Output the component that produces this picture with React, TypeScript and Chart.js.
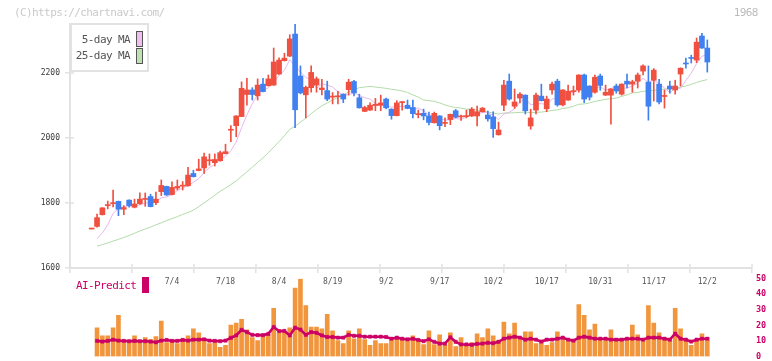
import React, { useEffect, useRef } from 'react';
import { Chart, registerables } from 'chart.js';

Chart.register(...registerables);

// ---------- data ----------
const opens = [
  1720, 1728, 1764, 1792, 1798, 1805, 1781, 1809, 1787, 1798,
  1811, 1820, 1801, 1835, 1851, 1826, 1846, 1852, 1853, 1891,
  1900, 1908, 1930, 1924, 1930, 1952, 2024, 2038, 2066, 2134,
  2148, 2130, 2166, 2161, 2163, 2197, 2238, 2252, 2320, 2191,
  2133, 2155, 2163, 2149, 2146, 2126, 2127, 2135, 2149, 2174,
  2124, 2082, 2086, 2100, 2101, 2120, 2089, 2069, 2109, 2101,
  2094, 2072, 2076, 2068, 2047, 2068, 2045, 2057, 2084, 2065,
  2066, 2068, 2068, 2081, 2071, 2065, 2010, 2101, 2175, 2098,
  2123, 2132, 2037, 2086, 2129, 2090, 2148, 2175, 2102, 2117,
  2143, 2148, 2194, 2160, 2141, 2191, 2132, 2132, 2160, 2135,
  2175, 2166, 2175, 2206, 2172, 2178, 2166, 2128, 2160, 2148,
  2197, 2231, 2248, 2240, 2314, 2277,
];
const highs = [
  1720, 1766, 1786, 1806, 1840, 1806, 1792, 1810, 1812, 1831,
  1831, 1827, 1834, 1871, 1852, 1865, 1871, 1866, 1910, 1901,
  1935, 1954, 1951, 1951, 1960, 1981, 2038, 2069, 2173, 2184,
  2155, 2182, 2184, 2194, 2277, 2247, 2261, 2318, 2351, 2222,
  2160, 2222, 2188, 2181, 2175, 2140, 2144, 2136, 2181, 2178,
  2135, 2098, 2108, 2122, 2132, 2123, 2090, 2115, 2112, 2117,
  2117, 2086, 2089, 2080, 2080, 2069, 2062, 2074, 2088, 2071,
  2086, 2094, 2098, 2094, 2083, 2081, 2049, 2178, 2197, 2151,
  2140, 2133, 2089, 2138, 2166, 2129, 2172, 2181, 2149, 2163,
  2160, 2195, 2197, 2161, 2194, 2197, 2163, 2152, 2166, 2167,
  2197, 2178, 2200, 2225, 2222, 2214, 2181, 2148, 2175, 2178,
  2216, 2246, 2255, 2308, 2322, 2302,
];
const lows = [
  1720, 1726, 1763, 1782, 1788, 1761, 1764, 1787, 1785, 1796,
  1790, 1788, 1795, 1823, 1823, 1825, 1840, 1840, 1852, 1880,
  1899, 1891, 1916, 1914, 1929, 1951, 1989, 2004, 2066, 2101,
  2117, 2117, 2142, 2160, 2162, 2196, 2237, 2251, 2032, 2136,
  2062, 2141, 2141, 2133, 2115, 2105, 2105, 2109, 2132, 2130,
  2092, 2081, 2085, 2084, 2084, 2090, 2058, 2068, 2086, 2090,
  2062, 2062, 2056, 2040, 2046, 2025, 2035, 2041, 2062, 2054,
  2062, 2066, 2037, 2080, 2052, 2002, 2009, 2084, 2117, 2091,
  2108, 2074, 2027, 2074, 2114, 2081, 2135, 2098, 2099, 2116,
  2132, 2141, 2109, 2117, 2138, 2147, 2131, 2043, 2138, 2132,
  2154, 2141, 2154, 2194, 2055, 2114, 2105, 2092, 2138, 2135,
  2160, 2215, 2231, 2232, 2276, 2203,
];
const closes = [
  1720, 1755, 1785, 1794, 1800, 1781, 1786, 1792, 1797, 1812,
  1813, 1789, 1812, 1854, 1825, 1848, 1851, 1854, 1886, 1881,
  1905, 1942, 1933, 1934, 1955, 1958, 2027, 2068, 2153, 2148,
  2134, 2163, 2143, 2182, 2234, 2240, 2246, 2305, 2087, 2139,
  2156, 2202, 2182, 2154, 2120, 2129, 2130, 2120, 2172, 2139,
  2093, 2094, 2101, 2104, 2108, 2093, 2069, 2108, 2111, 2091,
  2075, 2074, 2068, 2048, 2076, 2038, 2047, 2073, 2064, 2067,
  2068, 2089, 2081, 2092, 2059, 2029, 2025, 2163, 2120, 2111,
  2135, 2084, 2062, 2132, 2115, 2120, 2166, 2102, 2148, 2144,
  2145, 2194, 2120, 2126, 2187, 2162, 2141, 2151, 2145, 2166,
  2166, 2173, 2194, 2222, 2098, 2209, 2111, 2130, 2151, 2160,
  2215, 2228, 2245, 2295, 2277, 2234,
];
const ma5 = [
  null, 1690, 1708, 1733, 1768, 1783, 1789, 1791, 1791, 1794,
  1800, 1801, 1805, 1816, 1819, 1826, 1838, 1846, 1853, 1864,
  1875, 1894, 1909, 1919, 1934, 1944, 1961, 1988, 2032, 2071,
  2106, 2133, 2148, 2154, 2171, 2192, 2209, 2241, 2222, 2203,
  2187, 2178, 2153, 2167, 2163, 2157, 2143, 2131, 2134, 2138,
  2131, 2124, 2120, 2106, 2100, 2100, 2095, 2096, 2098, 2094,
  2091, 2092, 2084, 2071, 2068, 2061, 2055, 2056, 2060, 2058,
  2064, 2072, 2074, 2079, 2078, 2070, 2057, 2074, 2079, 2090,
  2111, 2123, 2102, 2105, 2106, 2103, 2119, 2127, 2130, 2136,
  2141, 2147, 2150, 2146, 2154, 2158, 2147, 2153, 2157, 2153,
  2154, 2160, 2169, 2184, 2171, 2179, 2167, 2154, 2140, 2152,
  2153, 2177, 2200, 2229, 2252, 2256,
];
const ma25 = [
  null, 1667, 1672, 1677, 1683, 1688, 1694, 1700, 1707, 1714,
  1720, 1726, 1733, 1739, 1746, 1752, 1758, 1765, 1771, 1778,
  1789, 1800, 1812, 1824, 1836, 1846, 1857, 1868, 1882, 1896,
  1910, 1925, 1939, 1955, 1972, 1989, 2007, 2027, 2036, 2049,
  2061, 2075, 2088, 2099, 2108, 2117, 2125, 2132, 2142, 2149,
  2155, 2157, 2159, 2157, 2155, 2153, 2150, 2148, 2145, 2140,
  2133, 2126, 2117, 2115, 2113, 2108, 2102, 2097, 2094, 2092,
  2089, 2088, 2086, 2083, 2080, 2077, 2074, 2077, 2077, 2078,
  2079, 2080, 2078, 2079, 2080, 2082, 2085, 2087, 2091, 2093,
  2098, 2104, 2105, 2108, 2113, 2116, 2119, 2121, 2123, 2128,
  2133, 2139, 2140, 2144, 2144, 2147, 2148, 2151, 2151, 2153,
  2157, 2160, 2165, 2171, 2176, 2180,
];
const volume = [
  null, 18.3, 13.3, 13.3, 18.3, 26.4, 8.9, 8.9, 13.3, 8.9,
  12.1, 10.8, 12.7, 22.7, 8.9, 10.2, 8.3, 11.4, 13.3, 17.7,
  15.2, 11.4, 8.3, 8.9, 5.8, 7.1, 20.2, 21.4, 23.9, 17.1,
  12.1, 10.2, 13.9, 13.9, 30.8, 15.2, 15.2, 18.3, 43.9, 49.6,
  32.7, 18.9, 18.9, 17.7, 27.0, 16.4, 10.2, 8.3, 16.4, 11.4,
  17.7, 10.8, 7.1, 10.2, 8.3, 8.3, 10.8, 12.1, 10.8, 10.2,
  13.3, 10.8, 7.7, 16.4, 7.7, 13.9, 7.1, 15.2, 6.4, 12.1,
  7.7, 8.9, 14.6, 12.1, 17.7, 13.3, 10.2, 22.1, 14.6, 21.4,
  10.8, 15.8, 15.8, 8.3, 8.9, 7.1, 8.9, 15.8, 10.8, 9.6,
  10.8, 33.3, 26.4, 17.1, 20.8, 10.8, 11.4, 17.1, 10.8, 10.2,
  11.4, 20.2, 13.9, 10.2, 32.7, 21.4, 15.2, 12.1, 10.2, 30.8,
  17.7, 11.4, 7.1, 10.2, 14.6, 12.1,
];
const aiPredict = [
  null, 10.0, 9.6, 10.0, 10.8, 10.2, 10.0, 9.8, 10.0, 9.8,
  9.8, 9.6, 9.1, 10.2, 10.6, 10.0, 10.0, 10.6, 10.2, 10.8,
  10.8, 11.0, 10.2, 10.0, 9.8, 10.2, 12.0, 13.5, 17.1, 15.6,
  13.9, 13.7, 13.7, 14.5, 18.9, 16.3, 16.4, 13.5, 18.5, 17.3,
  13.9, 15.6, 15.2, 13.5, 12.5, 12.5, 12.1, 12.1, 13.9, 13.3,
  13.3, 12.7, 12.7, 12.7, 12.7, 12.5, 11.4, 12.1, 11.4, 11.0,
  11.4, 10.6, 9.8, 11.0, 9.4, 8.3, 8.3, 12.3, 9.4, 7.7,
  7.7, 7.5, 8.1, 8.3, 8.8, 8.5, 9.4, 11.4, 12.1, 12.7,
  12.1, 10.8, 11.4, 10.8, 9.6, 10.8, 10.8, 11.4, 12.1, 10.8,
  10.2, 12.1, 12.7, 12.1, 11.4, 11.4, 11.4, 10.8, 10.8, 10.8,
  11.4, 11.4, 11.4, 10.8, 12.1, 12.1, 12.1, 11.4, 10.8, 14.6,
  11.4, 10.8, 9.6, 10.8, 11.4, 11.4,
];
const dateTickIndex = [15, 25, 35, 45, 55, 65, 75, 85, 95, 105, 115];
const dateTickLabels = ['7/4', '7/18', '8/4', '8/19', '9/2', '9/17', '10/2', '10/17', '10/31', '11/17', '12/2'];
const priceTicks = [1600, 1800, 2000, 2200];
const volumeTicks = [0, 10, 20, 30, 40, 50];

// ---------- styling ----------
const MONO = '"DejaVu Sans Mono", "Liberation Mono", monospace';
const RED = '#f05040';
const BLUE = '#4080f0';
const PINK = '#e8b6ee';
const GREEN = '#b2dba8';
const ORANGE = '#f2963e';
const MAGENTA = '#cc0066';
const AXIS = '#e2e2e2';
const X_MIN = -4.05;
const X_MAX = 123.35;
const GRID_DIV = 11;

const innerTicks = {
  id: 'innerTicks',
  afterDraw(chart: any) {
    const { ctx, chartArea, scales } = chart;
    ctx.save();
    ctx.strokeStyle = AXIS;
    ctx.lineWidth = 1.5;
    ctx.beginPath();
    priceTicks.forEach((v) => {
      const y = scales.y.getPixelForValue(v);
      ctx.moveTo(chartArea.left, y);
      ctx.lineTo(chartArea.left + 4, y);
    });
    for (let k = 0; k <= GRID_DIV; k++) {
      const x = scales.x.getPixelForValue(X_MIN + (k * (X_MAX - X_MIN)) / GRID_DIV);
      ctx.moveTo(x, chartArea.bottom);
      ctx.lineTo(x, chartArea.bottom - 4);
    }
    ctx.stroke();
    ctx.restore();
  },
};

export default function App() {
  const mainRef = useRef<HTMLCanvasElement>(null);
  const volRef = useRef<HTMLCanvasElement>(null);

  useEffect(() => {
    const colors = closes.map((c, i) => (c >= opens[i] ? RED : BLUE));
    const labelSet = new Set(dateTickIndex);
    const gridVals: number[] = [];
    for (let k = 0; k <= GRID_DIV; k++) gridVals.push(X_MIN + (k * (X_MAX - X_MIN)) / GRID_DIV);

    const main = new Chart(mainRef.current as HTMLCanvasElement, {
      type: 'bar',
      data: {
        datasets: [
          {
            type: 'bar',
            label: 'body',
            data: opens.map((o, i) => ({ x: i, y: [Math.min(o, closes[i]), Math.max(o, closes[i])] })) as any,
            backgroundColor: colors,
            barThickness: 5,
            minBarLength: 1,
            grouped: false,
            borderWidth: 0,
            order: 1,
          },
          {
            type: 'bar',
            label: 'wick',
            data: highs.map((h, i) => ({ x: i, y: [lows[i], h] })) as any,
            backgroundColor: colors,
            barThickness: 1,
            grouped: false,
            borderWidth: 0,
            order: 2,
          },
          {
            type: 'line',
            label: '5-day MA',
            data: ma5.map((v, i) => ({ x: i, y: v })) as any,
            borderColor: PINK,
            borderWidth: 1,
            pointRadius: 0,
            tension: 0,
            order: 3,
          },
          {
            type: 'line',
            label: '25-day MA',
            data: ma25.map((v, i) => ({ x: i, y: v })) as any,
            borderColor: GREEN,
            borderWidth: 1,
            pointRadius: 0,
            tension: 0,
            order: 4,
          },
        ],
      },
      options: {
        responsive: false,
        animation: false,
        events: [],
        layout: { padding: { top: 24, right: 20, left: 0, bottom: 0 } },
        plugins: { legend: { display: false }, tooltip: { enabled: false } },
        scales: {
          x: {
            type: 'linear',
            min: X_MIN,
            max: X_MAX,
            offset: false,
            afterBuildTicks: (s: any) => {
              s.ticks = [...gridVals, ...dateTickIndex].sort((a, b) => a - b).map((v) => ({ value: v }));
            },
            afterFit: (s: any) => {
              s.height = 32;
              s.paddingLeft = 0;
              s.paddingRight = 0;
            },
            ticks: {
              autoSkip: false,
              maxRotation: 0,
              minRotation: 0,
              padding: 4,
              color: '#555',
              font: { family: MONO, size: 8 },
              callback: (v: any) => {
                const k = dateTickIndex.indexOf(v);
                return k >= 0 ? dateTickLabels[k] : '';
              },
            },
            grid: {
              drawOnChartArea: false,
              offset: false,
              tickLength: 5,
              lineWidth: 1.5,
              color: (c: any) => (c.tick && labelSet.has(c.tick.value) ? 'rgba(0,0,0,0)' : AXIS),
            },
            border: { display: true, color: AXIS, width: 2 },
          },
          y: {
            type: 'linear',
            min: 1600,
            max: 2351,
            afterBuildTicks: (s: any) => {
              s.ticks = priceTicks.map((v) => ({ value: v }));
            },
            afterFit: (s: any) => {
              s.width = 70;
              s.paddingTop = 0;
              s.paddingBottom = 0;
            },
            ticks: {
              padding: 5,
              color: '#3a3a3a',
              font: { family: MONO, size: 8 },
              callback: (v: any) => String(v),
            },
            grid: { drawOnChartArea: false, tickLength: 5, lineWidth: 1.5, color: AXIS },
            border: { display: true, color: AXIS, width: 2 },
          },
        },
      },
      plugins: [innerTicks],
    });

    const vol = new Chart(volRef.current as HTMLCanvasElement, {
      type: 'bar',
      data: {
        datasets: [
          {
            type: 'line',
            label: 'AI-Predict',
            data: aiPredict.map((v, i) => ({ x: i, y: v })) as any,
            borderColor: MAGENTA,
            borderWidth: 2.6,
            pointStyle: 'rect',
            pointRadius: 2.3,
            pointBackgroundColor: MAGENTA,
            pointBorderColor: MAGENTA,
            pointBorderWidth: 0.5,
            tension: 0,
            order: 0,
          },
          {
            type: 'bar',
            label: 'Volume',
            data: volume.map((v, i) => ({ x: i, y: v })) as any,
            backgroundColor: ORANGE,
            barThickness: 4,
            borderWidth: 0,
            order: 1,
          },
        ],
      },
      options: {
        responsive: false,
        animation: false,
        events: [],
        layout: { padding: { top: 10.5, bottom: 2.5, left: 70, right: 0 } },
        plugins: { legend: { display: false }, tooltip: { enabled: false } },
        scales: {
          x: { type: 'linear', min: X_MIN, max: X_MAX, offset: false, display: false },
          y: {
            type: 'linear',
            position: 'right',
            min: 0,
            max: 50,
            afterBuildTicks: (s: any) => {
              s.ticks = volumeTicks.map((v) => ({ value: v }));
            },
            afterFit: (s: any) => {
              s.width = 20;
              s.paddingTop = 0;
              s.paddingBottom = 0;
            },
            ticks: {
              padding: 4,
              color: MAGENTA,
              font: { family: MONO, size: 8.5, weight: 'bold' },
              callback: (v: any) => String(v),
            },
            grid: { display: false, drawTicks: false },
            border: { display: false },
          },
        },
      },
    });

    return () => {
      main.destroy();
      vol.destroy();
    };
  }, []);

  const text = (color: string, extra: React.CSSProperties): React.CSSProperties => ({
    position: 'absolute',
    fontFamily: MONO,
    fontSize: 11,
    letterSpacing: '-0.6px',
    lineHeight: '12px',
    whiteSpace: 'nowrap',
    color,
    ...extra,
  });

  return (
    <div style={{ position: 'absolute', left: 0, top: 0, width: 772, height: 361, overflow: 'hidden', background: '#fff' }}>
      <canvas ref={mainRef} width={772} height={300} style={{ position: 'absolute', left: 0, top: 0 }} />
      <canvas ref={volRef} width={772} height={93} style={{ position: 'absolute', left: 0, top: 268 }} />
      <div style={text('#cacaca', { left: 14, top: 6.7 })}>(C)https://chartnavi.com/</div>
      <div style={text('#bbbbbb', { left: 0, width: 757.8, top: 6.7, textAlign: 'right' })}>1968</div>
      <div
        style={{
          position: 'absolute',
          left: 69.5,
          top: 23,
          width: 79.5,
          height: 49,
          boxSizing: 'border-box',
          border: `2px solid ${AXIS}`,
          background: '#fff',
        }}
      />
      <div style={text('#555', { left: 0, width: 130, top: 34, textAlign: 'right' })}>5-day MA</div>
      <div style={text('#555', { left: 0, width: 130, top: 50, textAlign: 'right' })}>25-day MA</div>
      <div style={{ position: 'absolute', left: 136, top: 31, width: 7, height: 16, boxSizing: 'border-box', border: '1px solid #555', background: '#f0bff0' }} />
      <div style={{ position: 'absolute', left: 136, top: 48, width: 7, height: 16, boxSizing: 'border-box', border: '1px solid #555', background: '#bfe0b2' }} />
      <div style={text(MAGENTA, { left: 76, top: 280.2 })}>AI-Predict</div>
      <div style={{ position: 'absolute', left: 142.3, top: 277.3, width: 6.4, height: 15.4, background: MAGENTA }} />
    </div>
  );
}
